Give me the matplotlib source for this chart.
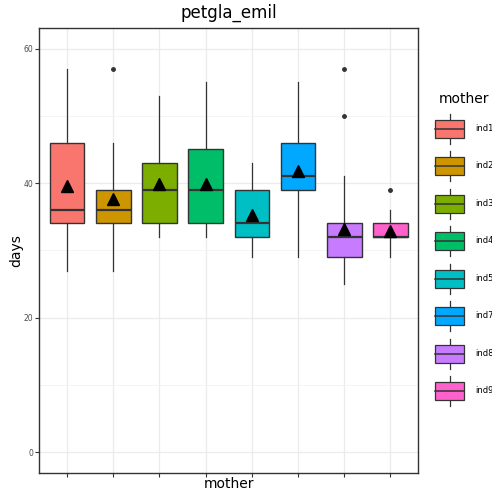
import numpy as np
import matplotlib
matplotlib.use("Agg")
import matplotlib.pyplot as plt
from matplotlib.patches import Rectangle, Patch
from matplotlib.lines import Line2D
from matplotlib.legend_handler import HandlerBase

# box stats
mothers = ['ind1', 'ind2', 'ind3', 'ind4', 'ind5', 'ind7', 'ind8', 'ind9']
q1 = [34, 34, 34, 34, 32, 39, 29, 32]
med = [36, 36, 39, 39, 34, 41, 32, 32]
q3 = [46, 39, 43, 45, 39, 46, 34, 34]
whislo = [27, 27, 32, 32, 29, 29, 25, 29]
whishi = [57, 46, 53, 55, 43, 55, 41, 36]
means = [39.5, 37.6, 39.8, 39.8, 35.2, 41.8, 33.2, 32.9]
fliers = [[], [57], [], [], [], [], [57, 50], [39]]

colors = ['#F8766D', '#CD9600', '#7CAE00', '#00BE67',
          '#00BFC4', '#00A9FF', '#C77CFF', '#FF61CC']

dark = '#333333'

stats = []
for i in range(len(mothers)):
    stats.append(dict(label=mothers[i], q1=q1[i], med=med[i], q3=q3[i],
                      whislo=whislo[i], whishi=whishi[i],
                      mean=means[i], fliers=fliers[i]))


class BoxKey(HandlerBase):
    # draws a little boxplot glyph as the legend key
    def create_artists(self, legend, orig_handle, xdescent, ydescent,
                       width, height, fontsize, trans):
        x0, y0 = -xdescent, -ydescent
        xc = x0 + width / 2
        b0 = y0 + 0.2 * height
        b1 = y0 + 0.8 * height
        w1 = Line2D([xc, xc], [y0, b0], color=dark, lw=0.9, transform=trans)
        w2 = Line2D([xc, xc], [b1, y0 + height], color=dark, lw=0.9, transform=trans)
        r = Rectangle((x0, b0), width, b1 - b0, facecolor=orig_handle.get_facecolor(),
                      edgecolor=dark, lw=0.9, transform=trans)
        m = Line2D([x0, x0 + width], [y0 + height / 2] * 2, color=dark, lw=1.1,
                   transform=trans)
        return [w1, w2, r, m]


fig = plt.figure(figsize=(4.92, 4.91), dpi=100)
ax = fig.add_axes([0.0799, 0.0373, 0.850 - 0.0799, 0.9436 - 0.0373])

pos = np.arange(1, len(mothers) + 1)
bp = ax.bxp(stats, positions=pos, widths=0.75, patch_artist=True,
            showmeans=True, showcaps=False,
            boxprops=dict(edgecolor=dark, linewidth=1.0),
            whiskerprops=dict(color=dark, linewidth=0.9),
            medianprops=dict(color=dark, linewidth=1.6),
            meanprops=dict(marker='^', markerfacecolor='black',
                           markeredgecolor='black', markersize=8),
            flierprops=dict(marker='o', markerfacecolor=dark,
                            markeredgecolor=dark, markersize=2.5))
for patch, c in zip(bp['boxes'], colors):
    patch.set_facecolor(c)

ax.set_xlim(0.4, len(mothers) + 0.6)
ax.set_ylim(-3.05, 63.1)
ax.set_xticks(pos)
ax.set_xticklabels([])
ax.set_yticks([0, 20, 40, 60])
ax.set_yticks([10, 30, 50], minor=True)
ax.grid(True, which='major', color='#EBEBEB', linewidth=0.9)
ax.grid(True, which='minor', axis='y', color='#F2F2F2', linewidth=0.6)
ax.set_axisbelow(True)
ax.tick_params(axis='both', which='major', color=dark, length=3, width=0.8,
               labelsize=5.5, labelcolor='#4D4D4D', pad=1.2)
ax.tick_params(axis='y', which='minor', length=0)
for s in ax.spines.values():
    s.set_color(dark)
    s.set_linewidth(1.0)

ax.set_title('petgla_emil', fontsize=12, pad=7)
ax.set_xlabel('mother', fontsize=10, labelpad=-1)
ax.set_ylabel('days', fontsize=10, labelpad=0)

handles = [Patch(facecolor=c) for c in colors]
leg = fig.legend(handles, mothers, title='mother', loc='upper left',
                 bbox_to_anchor=(0.884, 0.812), frameon=False,
                 fontsize=6, title_fontsize=10,
                 handler_map={Patch: BoxKey()},
                 handlelength=3.5, handleheight=5.16, labelspacing=0.9,
                 handletextpad=1.3, borderpad=0, borderaxespad=0)

fig.savefig('out.png', dpi=100)
